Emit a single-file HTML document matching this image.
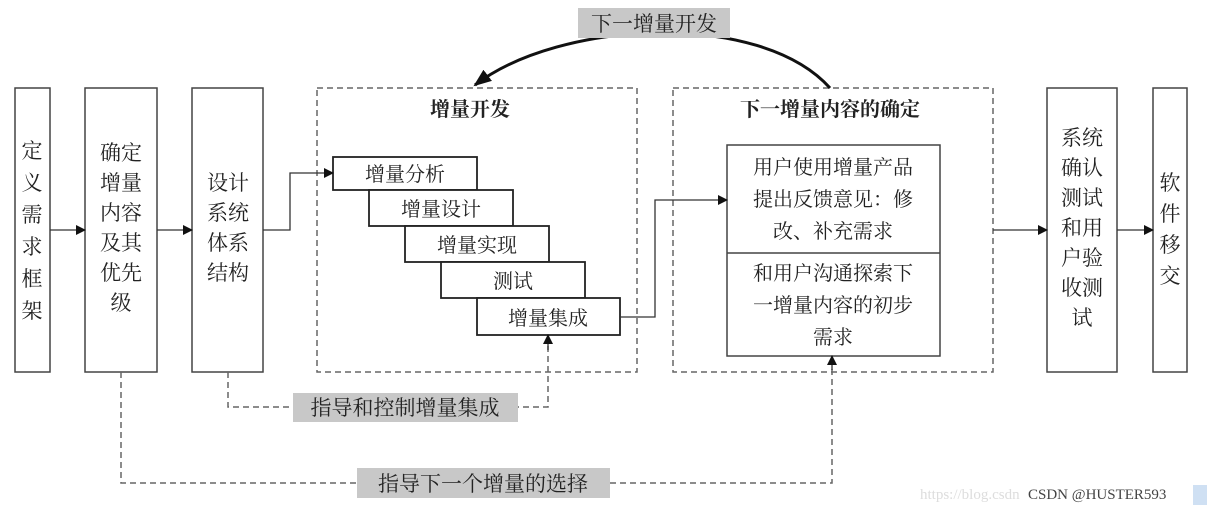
<!DOCTYPE html>
<html><head><meta charset="utf-8"><style>
body{margin:0;background:#fff;}
svg text{font-family:"Liberation Serif","Noto Serif CJK SC",serif;fill:#222;}
</style></head><body>
<svg width="1207" height="508" xmlns="http://www.w3.org/2000/svg">
<defs><marker id="a" markerWidth="10" markerHeight="10" refX="9" refY="5" orient="auto" markerUnits="userSpaceOnUse"><path d="M0,0 L10,5 L0,10 z" fill="#111"/></marker>
<marker id="b" markerWidth="18" markerHeight="14" refX="16" refY="7" orient="auto" markerUnits="userSpaceOnUse"><path d="M0,0 L18,7 L0,14 z" fill="#111"/></marker></defs>
<g fill="none" stroke="#444" stroke-width="1.5">
<rect x="15" y="88" width="35" height="284"/>
<rect x="85" y="88" width="72" height="284"/>
<rect x="192" y="88" width="71" height="284"/>
<rect x="1047" y="88" width="70" height="284"/>
<rect x="1153" y="88" width="34" height="284"/>
<rect x="727" y="145" width="213" height="211"/>
<line x1="727" y1="253" x2="940" y2="253"/>
</g>
<g fill="none" stroke="#666" stroke-width="1.5" stroke-dasharray="6,4">
<rect x="317" y="88" width="320" height="284"/>
<rect x="673" y="88" width="320" height="284"/>
<path d="M228 372 V407 H548 V345"/>
<path d="M121 372 V483 H832 V366"/>
</g>
<g fill="#fff" stroke="#222" stroke-width="1.8">
<rect x="333" y="157" width="144" height="33"/>
<rect x="369" y="190" width="144" height="36"/>
<rect x="405" y="226" width="144" height="36"/>
<rect x="441" y="262" width="144" height="36"/>
<rect x="477" y="298" width="143" height="37"/>
</g>
<g fill="none" stroke="#333" stroke-width="1.3">
<line x1="50" y1="230" x2="85" y2="230" marker-end="url(#a)"/>
<line x1="157" y1="230" x2="192" y2="230" marker-end="url(#a)"/>
<path d="M263 230 H290 V173 H333" marker-end="url(#a)"/>
<path d="M620 317 H655 V200 H727" marker-end="url(#a)"/>
<line x1="993" y1="230" x2="1047" y2="230" marker-end="url(#a)"/>
<line x1="1117" y1="230" x2="1153" y2="230" marker-end="url(#a)"/>
<line x1="548" y1="350" x2="548" y2="335" marker-end="url(#a)"/>
<line x1="832" y1="370" x2="832" y2="356" marker-end="url(#a)"/>
</g>
<path d="M830 88 C760 10 560 20 475 85" fill="none" stroke="#111" stroke-width="3" marker-end="url(#b)"/>
<rect x="578" y="8" width="152" height="30" fill="#c8c8c8"/>
<text x="654" y="31" font-size="21" text-anchor="middle">下一增量开发</text>
<rect x="293" y="393" width="225" height="29" fill="#c8c8c8"/>
<text x="405" y="415" font-size="21" text-anchor="middle">指导和控制增量集成</text>
<rect x="357" y="468" width="253" height="30" fill="#c8c8c8"/>
<text x="483" y="491" font-size="21" text-anchor="middle">指导下一个增量的选择</text>
<text x="470" y="116" font-size="20" font-weight="bold" text-anchor="middle">增量开发</text>
<text x="830" y="116" font-size="20" font-weight="bold" text-anchor="middle">下一增量内容的确定</text>
<g font-size="20" text-anchor="middle">
<text x="405" y="181">增量分析</text>
<text x="441" y="216">增量设计</text>
<text x="477" y="252">增量实现</text>
<text x="513" y="288">测试</text>
<text x="548" y="325">增量集成</text>
<text x="833" y="174">用户使用增量产品</text>
<text x="833" y="206">提出反馈意见：修</text>
<text x="833" y="238">改、补充需求</text>
<text x="833" y="280">和用户沟通探索下</text>
<text x="833" y="312">一增量内容的初步</text>
<text x="833" y="344">需求</text>
</g>
<g font-size="21" text-anchor="middle">
<text x="32" y="158">定</text><text x="32" y="190">义</text><text x="32" y="222">需</text><text x="32" y="254">求</text><text x="32" y="286">框</text><text x="32" y="318">架</text>
<text x="121" y="160">确定</text><text x="121" y="190">增量</text><text x="121" y="220">内容</text><text x="121" y="250">及其</text><text x="121" y="280">优先</text><text x="121" y="310">级</text>
<text x="228" y="190">设计</text><text x="228" y="220">系统</text><text x="228" y="250">体系</text><text x="228" y="280">结构</text>
<text x="1082" y="145">系统</text><text x="1082" y="175">确认</text><text x="1082" y="205">测试</text><text x="1082" y="235">和用</text><text x="1082" y="265">户验</text><text x="1082" y="295">收测</text><text x="1082" y="325">试</text>
<text x="1170" y="190">软</text><text x="1170" y="221">件</text><text x="1170" y="252">移</text><text x="1170" y="283">交</text>
</g>
<text x="920" y="499" font-size="15" fill="#ddd" style="fill:#ddd">https://blog.csdn</text>
<text x="1028" y="499" font-size="15" style="fill:#444">CSDN @HUSTER593</text>
<rect x="1193" y="485" width="14" height="20" fill="#cfe0f3"/>
</svg>
</body></html>
